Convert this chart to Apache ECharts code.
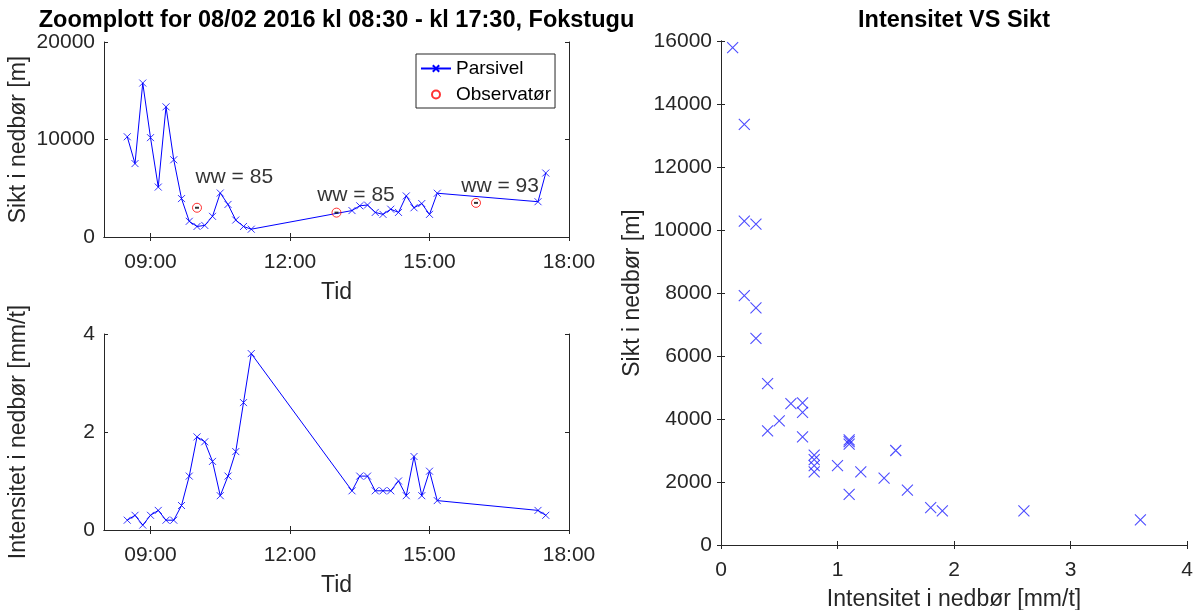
<!DOCTYPE html>
<html>
<head>
<meta charset="utf-8">
<script src="https://cdn.jsdelivr.net/npm/echarts@6/dist/echarts.min.js"></script>
<style>
html,body{margin:0;padding:0;background:#fff;}
#c{width:1196px;height:610px;}
</style>
</head>
<body>
<div id="c"></div>
<script>
// ---- data ----
const times = ['08:30','08:40','08:50','09:00','09:10','09:20','09:30','09:40','09:50','10:00','10:10','10:20','10:30','10:40','10:50','11:00','11:10',
  '13:20','13:30','13:40','13:50','14:00','14:10','14:20','14:30','14:40','14:50','15:00','15:10','17:20','17:30'];
const sikt = [10280,7530,15790,10190,5120,13350,7920,3940,1610,1080,1190,2120,4510,3340,1740,1080,800,
  2710,3200,3280,2520,2320,2850,2520,4210,3000,3430,2320,4490,3620,6560];
const intensitet = [0.2,0.3,0.1,0.3,0.4,0.2,0.2,0.5,1.1,1.9,1.8,1.4,0.7,1.1,1.6,2.6,3.6,
  0.8,1.1,1.1,0.8,0.8,0.8,1.0,0.7,1.5,0.7,1.2,0.6,0.4,0.3];
const obsTimes = ['10:00','13:00','16:00'];
const obsSikt = [3000,2500,3500];
const wwText = ['ww = 85','ww = 85','ww = 93'];
const wwTimes = ['09:58','12:35','15:41'];
const wwSikt = [6100,4300,5200];
const timeTicks = ['09:00','12:00','15:00','18:00'];
const timeRange = ['08:00','18:00'];

// ---- helpers ----
const FF = '"Liberation Sans", Arial, Helvetica, sans-serif';
const TC = '#262626';
const BLUE = '#0000ff';
const XSYM = 'path://M0,0L10,10M10,0L0,10';
function toMin(s){const p=s.split(':');return (+p[0])*60+(+p[1]);}
function fmtTime(v){const h=Math.floor(v/60),m=Math.round(v%60);return String(h).padStart(2,'0')+':'+String(m).padStart(2,'0');}
const tickMins = timeTicks.map(toMin);

const lineSty = {show:true, lineStyle:{color:TC, width:1}};
const tickSty = {show:true, inside:true, length:4, lineStyle:{color:TC, width:1}};
const lblSty = {color:TC, fontSize:21, fontFamily:FF};
const nameSty = {color:TC, fontSize:23, fontFamily:FF};

function timeAxis(grid, top, name){
  const a = {type:'value', gridIndex:grid, min:toMin(timeRange[0]), max:toMin(timeRange[1]),
    position: top?'top':'bottom', splitLine:{show:false}, axisLine:lineSty,
    axisTick:Object.assign({customValues:tickMins}, tickSty),
    axisLabel: top?{show:false}:Object.assign({customValues:tickMins, margin:15, formatter:fmtTime}, lblSty)};
  if(name){a.name=name;a.nameLocation='middle';a.nameGap=44;a.nameTextStyle=nameSty;}
  return a;
}
function valAxis(grid, pos, min, max, interval, name, gap, isX){
  const a = {type:'value', gridIndex:grid, min:min, max:max, interval:interval, position:pos,
    splitLine:{show:false}, axisLine:lineSty, axisTick:tickSty,
    axisLabel:(pos==='right'||pos==='top')?{show:false}:Object.assign({margin:isX?15:9, formatter:v=>String(v)}, lblSty)};
  if(name){a.name=name;a.nameLocation='middle';a.nameGap=gap;a.nameTextStyle=nameSty;}
  return a;
}
function marks(xi, yi, vals){
  return {type:'scatter', xAxisIndex:xi, yAxisIndex:yi,
    data:times.map((t,i)=>[toMin(t), vals[i]]),
    symbol:XSYM, symbolSize:7, silent:true, z:3,
    itemStyle:{color:BLUE, borderColor:BLUE, borderWidth:1}};
}

const chart = echarts.init(document.getElementById('c'), null, {renderer:'canvas'});
chart.setOption({
  animation:false,
  backgroundColor:'#fff',
  textStyle:{fontFamily:FF},
  graphic:[
    {type:'text', x:336.5, y:21, style:{text:'Zoomplott for 08/02 2016 kl 08:30 - kl 17:30, Fokstugu', align:'center', verticalAlign:'middle', fontSize:23.5, fontWeight:'bold', fontFamily:FF, fill:'#000'}},
    {type:'text', x:954, y:21, style:{text:'Intensitet VS Sikt', align:'center', verticalAlign:'middle', fontSize:23.5, fontWeight:'bold', fontFamily:FF, fill:'#000'}}
  ],
  grid:[
    {left:104, top:42, width:465, height:195, outerBoundsMode:'none', containLabel:false},
    {left:104, top:334, width:465, height:196, outerBoundsMode:'none', containLabel:false},
    {left:721, top:41, width:466, height:504, outerBoundsMode:'none', containLabel:false}
  ],
  xAxis:[
    timeAxis(0,false,'Tid'), timeAxis(0,true),
    timeAxis(1,false,'Tid'), timeAxis(1,true),
    valAxis(2,'bottom',0,4,1,'Intensitet i nedbør [mm/t]',43,true), valAxis(2,'top',0,4,1)
  ],
  yAxis:[
    valAxis(0,'left',0,20000,10000,'Sikt i nedbør [m]',74), valAxis(0,'right',0,20000,10000),
    valAxis(1,'left',0,4,2,'Intensitet i nedbør [mm/t]',74), valAxis(1,'right',0,4,2),
    valAxis(2,'left',0,16000,2000,'Sikt i nedbør [m]',77), valAxis(2,'right',0,16000,2000)
  ],
  legend:{
    data:['Parsivel','Observatør'], orient:'vertical', left:416, top:54,
    itemWidth:30, itemHeight:8, itemGap:7, itemTextGap:4, padding:[5,4,4,4],
    borderColor:TC, borderWidth:1, backgroundColor:'#fff',
    textStyle:{fontSize:19, fontFamily:FF, color:'#000'}
  },
  series:[
    {name:'Parsivel', type:'line', xAxisIndex:0, yAxisIndex:0,
      data:times.map((t,i)=>[toMin(t), sikt[i]]),
      symbol:XSYM, symbolSize:7, showSymbol:false,
      lineStyle:{color:BLUE, width:1},
      itemStyle:{color:BLUE, borderColor:BLUE, borderWidth:1}},
    marks(0,0,sikt),
    {name:'Observatør', type:'scatter', xAxisIndex:0, yAxisIndex:0,
      data:obsTimes.map((t,i)=>[toMin(t), obsSikt[i]]),
      symbol:'circle', symbolSize:9,
      itemStyle:{color:'rgba(255,255,255,0)', borderColor:'#ff0000', borderWidth:1}, z:4},
    {name:'obsMark', type:'scatter', xAxisIndex:0, yAxisIndex:0,
      data:obsTimes.map((t,i)=>[toMin(t), obsSikt[i]]),
      symbol:'rect', symbolSize:[4,2], itemStyle:{color:'#000'}, z:5, silent:true},
    {name:'ww', type:'scatter', xAxisIndex:0, yAxisIndex:0,
      data:wwTimes.map((t,i)=>({value:[toMin(t), wwSikt[i]], label:{formatter:wwText[i]}})),
      symbolSize:0,
      label:{show:true, position:'right', distance:0, fontSize:21, fontFamily:FF, color:'#000'}},
    {name:'Intensitet', type:'line', xAxisIndex:2, yAxisIndex:2,
      data:times.map((t,i)=>[toMin(t), intensitet[i]]),
      symbol:XSYM, symbolSize:7, showSymbol:false,
      lineStyle:{color:BLUE, width:1},
      itemStyle:{color:BLUE, borderColor:BLUE, borderWidth:1}},
    marks(2,2,intensitet),
    {name:'IntVsSikt', type:'scatter', xAxisIndex:4, yAxisIndex:4,
      data:intensitet.map((v,i)=>[v, sikt[i]]),
      symbol:XSYM, symbolSize:11,
      itemStyle:{color:'#2020ff', borderColor:'#2020ff', borderWidth:1.1}}
  ]
});
</script>
</body>
</html>
